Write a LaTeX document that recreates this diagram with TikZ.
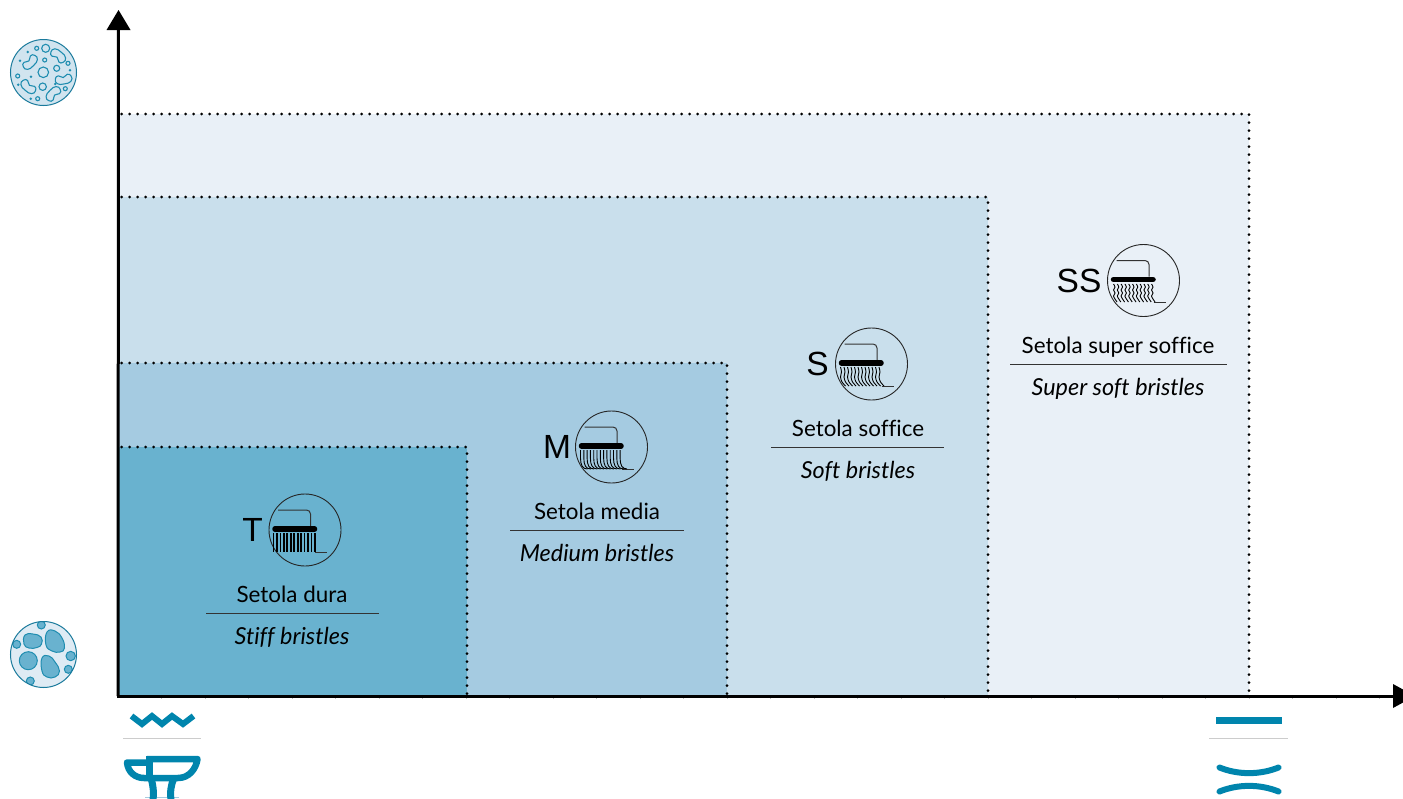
\documentclass[tikz,border=0pt]{standalone}
\usepackage{fontspec}
\setmainfont{Lato}[Ligatures=NoCommon]
\newfontfamily\lettersf{Liberation Sans}
\usetikzlibrary{arrows.meta}
\definecolor{ssfill}{HTML}{E9F0F7}
\definecolor{sfill}{HTML}{C9DFEC}
\definecolor{mfill}{HTML}{A5CBE1}
\definecolor{tfill}{HTML}{69B2CF}
\definecolor{teal}{HTML}{0085AD}
\definecolor{germline}{HTML}{1F8DB0}
\definecolor{germedge}{HTML}{1A7A9C}
\tikzset{
 zone/.style={draw=none,fill=#1},
 dotline/.style={line width=3pt,line cap=round,dash pattern=on 0pt off 8pt},
 axisline/.style={line width=3pt,black},
 namelabel/.style={font=\fontsize{22.4}{26}\selectfont,inner sep=0pt,anchor=base},
 enlabel/.style={font=\fontsize{23.4}{27}\selectfont\itshape,inner sep=0pt,anchor=base},
 grade/.style={font=\lettersf\fontsize{33.5}{36}\selectfont,inner sep=0pt,anchor=center},
 rulethin/.style={line width=0.9pt,black!80},
 graysep/.style={line width=1pt,black!20},
 iconstroke/.style={line width=6pt,teal},
 germcell/.style={draw=germline,line width=1.1pt},
 gravel/.style={draw=germline,line width=1pt,fill=tfill},
 bristle/.style={line width=0.9pt,black},
}
\newcommand{\brushbase}[2]{%
 \draw[line width=1pt,black!80,rounded corners=4pt] (#1-27,#2-20) -- (#1+5.5,#2-20) -- (#1+5.5,#2-4);
 \draw[line width=5.5pt,line cap=round,black] (#1-30,#2-1) -- (#1+9.5,#2-1);
 \draw[line width=0.9pt,black!80] (#1+10,#2+22) -- (#1+22,#2+22);
 \draw[line width=0.9pt,black!85] (#1,#2) circle[radius=36];
}
\newcommand{\kidney}[3]{%
 \draw[germcell,rotate around={#3:(#1,#2)}] plot[smooth cycle,tension=0.9] coordinates {(#1-7,#2-3.5) (#1,#2-5) (#1+7,#2-3.5) (#1+8,#2+1.5) (#1+4.5,#2+4) (#1,#2+1.5) (#1-4.5,#2+4) (#1-8,#2+1.5)};
}
\begin{document}
\begin{tikzpicture}[x=1pt,y=-1pt]
\useasboundingbox (0,0) rectangle (1403,798);
% zones
\fill[zone=ssfill] (118,114) rectangle (1249,696);
\fill[zone=sfill] (118,197) rectangle (988,696);
\fill[zone=mfill] (118,363) rectangle (727,696);
\fill[zone=tfill] (118,447) rectangle (467,696);
% dotted outlines
\draw[dotline] (121.7,114) -- (1249,114) -- (1249,696);
\draw[dotline] (121.7,197) -- (988,197) -- (988,696);
\draw[dotline] (121.7,363) -- (727,363) -- (727,696);
\draw[dotline] (121.7,447) -- (467,447) -- (467,696);
% faint ticks
\foreach \k in {1,...,29} \draw[line width=0.6pt,black!25] (118+43.5*\k,697) -- (118+43.5*\k,699);
% axes
\coordinate (origin) at (118,696);
\coordinate (ytip) at (118.5,10);
\coordinate (xtip) at (1415,696);
\draw[axisline] (origin) -- (118.5,28);
\draw[axisline] (116.5,696) -- (1396,696);
\fill (ytip) -- (130.5,30) -- (106.5,30) -- cycle;
\fill (xtip) -- (1393,684) -- (1393,708) -- cycle;
% T
\node[grade] (gT) at (252.5,530) {T};
\brushbase{305}{530}
\foreach \k in {0,...,12} \draw[line width=1.7pt,black] (305-31.5+3.45*\k,533) -- (305-31.5+3.45*\k,552);
\node[namelabel] (nT) at (292,602) {Setola dura};
\node[enlabel] (eT) at (292,644) {Stiff bristles};
\coordinate (lT1) at (206,613); \coordinate (lT2) at (379,613);
\draw[rulethin] (lT1) -- (lT2);
% M
\node[grade] (gM) at (557,447) {M};
\brushbase{611.5}{447}
\foreach \k in {0,...,12} \draw[bristle] (611.5-31+3.3*\k,450) -- (611.5-31+3.3*\k,458) .. controls (611.5-31+3.3*\k,465) and (611.5-29+3.3*\k,469) .. (611.5-24+3.3*\k,469);
\node[namelabel] (nM) at (597,519) {Setola media};
\node[enlabel] (eM) at (597,561) {Medium bristles};
\coordinate (lM1) at (510,530); \coordinate (lM2) at (684,530);
\draw[rulethin] (lM1) -- (lM2);
% S
\node[grade] (gS) at (817.5,364) {S};
\brushbase{871.5}{364}
\foreach \k in {0,...,11} \draw[bristle] plot[smooth] coordinates {(871.5-31+3.5*\k,367) (871.5-30+3.5*\k,372) (871.5-31+3.5*\k,377) (871.5-29.5+3.5*\k,382) (871.5-26+3.5*\k,386)};
\node[namelabel] (nS) at (858,436) {Setola soffice};
\node[enlabel] (eS) at (858,478) {Soft bristles};
\coordinate (lS1) at (771,447); \coordinate (lS2) at (944,447);
\draw[rulethin] (lS1) -- (lS2);
% SS
\node[grade] (gSS) at (1079,281) {SS};
\brushbase{1143.5}{280.5}
\foreach \k in {0,...,10} \draw[bristle] plot[smooth] coordinates {(1143.5-30+3.8*\k,284) (1143.5-28.5+3.8*\k,287) (1143.5-30+3.8*\k,290) (1143.5-28.5+3.8*\k,293) (1143.5-30+3.8*\k,296) (1143.5-28.5+3.8*\k,299) (1143.5-26.5+3.8*\k,302)};
\node[namelabel] (nSS) at (1118,353) {Setola super soffice};
\node[enlabel] (eSS) at (1118,395) {Super soft bristles};
\coordinate (lSS1) at (1010,364); \coordinate (lSS2) at (1227,364);
\draw[rulethin] (lSS1) -- (lSS2);
% top germ icon
\fill[fill=sfill!85!white] (43.5,72.5) circle[radius=33];
\kidney{58}{56}{-40}
\kidney{30}{62}{225}
\kidney{28.5}{86.5}{140}
\kidney{63.5}{79}{190}
\kidney{53.5}{94}{45}
\foreach \p/\q/\r in {45.7/48.3/4,36.7/48.3/2,44.7/60/2,43.3/72.3/5.3,56.7/68.3/3,68/63.3/2,17.7/76/2,42.7/86.7/3.7,65.3/88.7/2,37.7/98.7/2}
 \draw[germcell] (\p,\q) circle[radius=\r];
\foreach \p/\q in {27.7/52,20/60.7,31/76.7,70/70.3,18.3/84.7,55.3/84,30.7/98.7}
 \fill[germline] (\p,\q) circle[radius=1.4];
\draw[line width=1pt,germedge] (43.5,72.5) circle[radius=33];
% bottom germ icon
\fill[fill=ssfill!70!sfill] (43.5,654.5) circle[radius=33];
\begin{scope}
\clip (43.5,654.5) circle[radius=33];
\foreach \p/\q/\r in {41.3/625/4,16.7/644.3/4,70.7/656/4.7,68.3/669.3/4,30.3/681/4}
 \draw[gravel] (\p,\q) circle[radius=\r];
\draw[gravel] plot[smooth cycle,tension=0.8] coordinates {(25,635) (33,634) (41,637) (41.5,644) (37,647.5) (29,648) (24,644)};
\draw[gravel] plot[smooth cycle,tension=0.8] coordinates {(47,632) (55,631) (62,638) (64.5,648) (60,652) (52,651) (46,645)};
\draw[gravel] (28.3,660.7) circle[radius=9];
\draw[gravel] plot[smooth cycle,tension=0.8] coordinates {(42,658) (49,656) (55,662) (59.5,671) (55,677) (47,677) (42,671)};
\end{scope}
\draw[line width=1pt,germedge] (43.5,654.5) circle[radius=33];
% zigzag + separator + anvil
\draw[iconstroke,miter limit=10] (131.5,716) -- (142,724) -- (152,716) -- (162,724) -- (172,716) -- (183,724) -- (193.5,716);
\coordinate (sepL1) at (123,738); \coordinate (sepL2) at (201,738);
\draw[graysep] (sepL1) -- (sepL2);
\begin{scope}
\clip (100,740) rectangle (220,798);
\fill[mfill] (145,797) rectangle (179,798);
\draw[line width=6.5pt,teal,line join=round] (147,759) -- (197.5,759) .. controls (196,769) and (189,778) .. (178,778) -- (144,778) .. controls (135,778) and (128,772) .. (127,762.5) -- (148,762.5);
\draw[line width=7pt,teal] (149.5,756) -- (149.5,778);
\draw[line width=7pt,teal] (151,778) .. controls (153,785) and (154,791) .. (153,800);
\draw[line width=7pt,teal] (174,778) .. controls (171,785) and (170,791) .. (171,800);
\end{scope}
% right icons
\fill[teal] (1216,717) rectangle (1282,724);
\coordinate (sepR1) at (1209,738); \coordinate (sepR2) at (1288,738);
\draw[graysep] (sepR1) -- (sepR2);
\draw[line width=6pt,teal,line cap=round] (1219.5,767.5) .. controls (1238,775) and (1260,775) .. (1278.5,767.5);
\draw[line width=6pt,teal,line cap=round] (1219.5,791.5) .. controls (1238,784) and (1260,784) .. (1278.5,791.5);
\end{tikzpicture}
\end{document}
